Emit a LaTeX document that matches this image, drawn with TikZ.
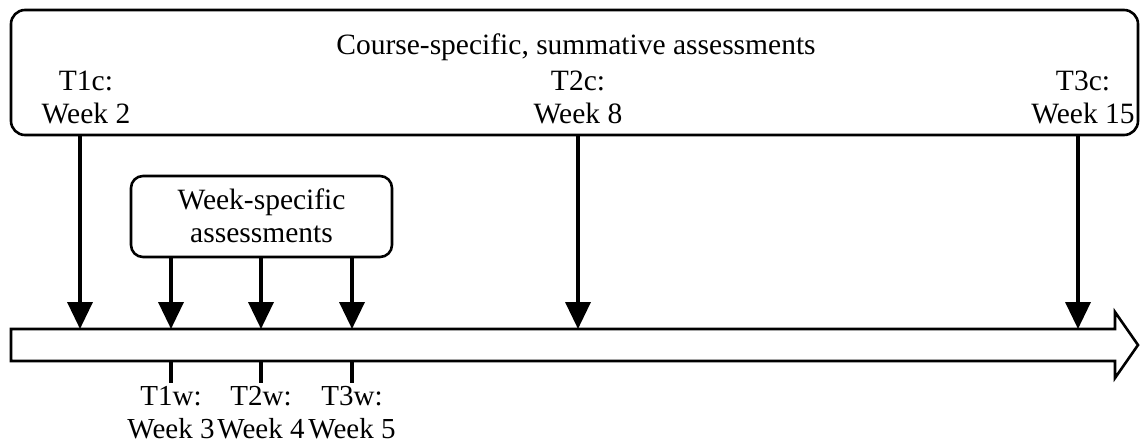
\documentclass[tikz,border=0pt]{standalone}
\usepackage{fontspec}
\setmainfont{Liberation Serif}
\usetikzlibrary{arrows.meta}
\begin{document}
\begin{tikzpicture}[x=1pt,y=-1pt,
  txt/.style={inner sep=0pt,align=center,font=\fontsize{29.5}{33}\selectfont},
  btxt/.style={inner sep=0pt,align=center,font=\fontsize{29}{33}\selectfont},
  rbox/.style={draw,line width=2.6pt,rounded corners=14pt,inner sep=0pt},
  darrow/.style={line width=3.6pt,-{Triangle[width=25pt,length=27pt]}},
  tick/.style={line width=4pt}]
\useasboundingbox (0,0) rectangle (1140,447);
% course box
\node[rbox,minimum width=1127pt,minimum height=125pt] (course) at (574.5,72.5) {};
\node[txt] (ctitle) at (576,47) {Course-specific, summative assessments};
\node[txt] (t1c) at (86,97) {T1c:\\Week 2};
\node[txt] (t2c) at (578,97) {T2c:\\Week 8};
\node[txt] (t3c) at (1083,97) {T3c:\\Week 15};
% week box
\node[rbox,minimum width=261pt,minimum height=81pt,rounded corners=12pt] (week) at (261.5,216.5) {};
\node[txt] (wtitle) at (261.5,216) {Week-specific\\assessments};
% timeline bar
\draw[line width=2.6pt,line join=miter] (11,329) -- (1115,329) -- (1115,312) -- (1138,345) -- (1115,378) -- (1115,361) -- (11,361) -- cycle;
\coordinate (b1) at (80,329);
\coordinate (b2) at (171,329);
\coordinate (b3) at (261,329);
\coordinate (b4) at (352,329);
\coordinate (b5) at (578,329);
\coordinate (b6) at (1078,329);
\draw[darrow] (course.south -| b1) -- (b1);
\draw[darrow] (course.south -| b5) -- (b5);
\draw[darrow] (course.south -| b6) -- (b6);
\draw[darrow] (week.south -| b2) -- (b2);
\draw[darrow] (week.south -| b3) -- (b3);
\draw[darrow] (week.south -| b4) -- (b4);
% ticks
\coordinate (k1) at (171,361);
\coordinate (k2) at (261,361);
\coordinate (k3) at (352,361);
\coordinate (e1) at (171,383);
\coordinate (e2) at (261,383);
\coordinate (e3) at (352,383);
\draw[tick] (k1) -- (e1);
\draw[tick] (k2) -- (e2);
\draw[tick] (k3) -- (e3);
\node[btxt] (t1w) at (171,413) {T1w:\\Week 3};
\node[btxt] (t2w) at (261,413) {T2w:\\Week 4};
\node[btxt] (t3w) at (352,413) {T3w:\\Week 5};
\end{tikzpicture}
\end{document}
